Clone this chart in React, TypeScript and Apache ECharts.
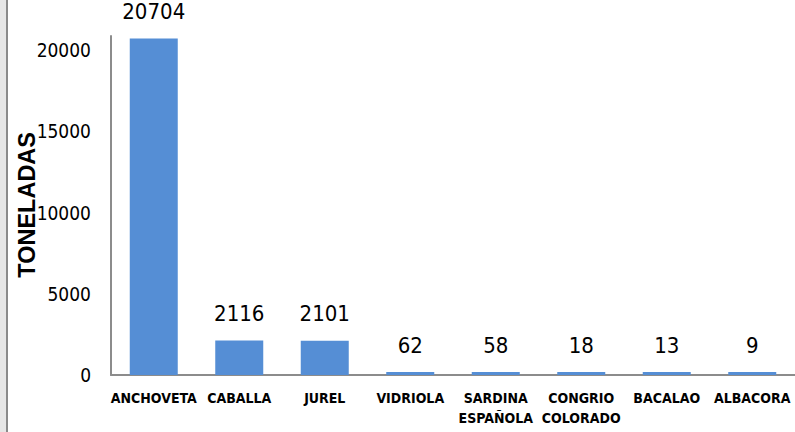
import React, { useEffect, useRef } from "react";
import * as echarts from "echarts";

const categories = [
  "ANCHOVETA",
  "CABALLA",
  "JUREL",
  "VIDRIOLA",
  "SARDINA\nESPAÑOLA",
  "CONGRIO\nCOLORADO",
  "BACALAO",
  "ALBACORA",
];
const toneladas = [20704, 2116, 2101, 62, 58, 18, 13, 9];
const yTickStep = 5000;
const yAxisName = "TONELADAS";

const narrow = "'DejaVu Sans Condensed', 'Liberation Sans Narrow', 'Arial Narrow', sans-serif";

export default function App() {
  const ref = useRef<HTMLDivElement>(null);
  useEffect(() => {
    document.body.style.margin = "0";
    const chart = echarts.init(ref.current!, undefined, { renderer: "svg" });
    chart.setOption({
      animation: false,
      backgroundColor: "#ffffff",
      graphic: [
        { type: "rect", left: 0, top: 0, shape: { width: 6, height: 432 }, style: { fill: "#e6e6e6" } },
        { type: "rect", left: 6, top: 0, shape: { width: 2, height: 432 }, style: { fill: "#8a8a8a" } },
        {
          type: "text",
          left: 15,
          top: 132,
          rotation: Math.PI / 2,
          style: {
            text: yAxisName,
            font: "bold 23.5px 'Liberation Sans', Arial, sans-serif",
            fill: "#000",
          },
        },
      ],
      grid: { left: 111, right: 0, top: 36, bottom: 57 },
      xAxis: {
        type: "category",
        data: categories,
        axisLine: { lineStyle: { color: "#8c8c8c", width: 2 } },
        axisTick: { show: false },
        axisLabel: {
          interval: 0,
          color: "#000",
          fontFamily: narrow,
          fontWeight: "bold",
          fontSize: 14,
          lineHeight: 20,
          margin: 13,
        },
      },
      yAxis: {
        type: "value",
        min: 0,
        max: 20862,
        interval: yTickStep,
        splitLine: { show: false },
        axisTick: { show: false },
        axisLine: { show: true, lineStyle: { color: "#8c8c8c", width: 2 } },
        axisLabel: {
          color: "#000",
          fontFamily: narrow,
          fontSize: 19,
          margin: 20,
          formatter: (v: number) => (v % yTickStep === 0 ? String(v) : ""),
        },
      },
      series: [
        {
          type: "bar",
          data: toneladas,
          barWidth: 48,
          barMinHeight: 3,
          itemStyle: { color: "#558ed5" },
          label: {
            show: true,
            position: "top",
            distance: 16,
            color: "#000",
            fontFamily: narrow,
            fontSize: 22,
          },
        },
      ],
    });
    return () => chart.dispose();
  }, []);
  return <div ref={ref} style={{ width: 795, height: 432 }} />;
}
